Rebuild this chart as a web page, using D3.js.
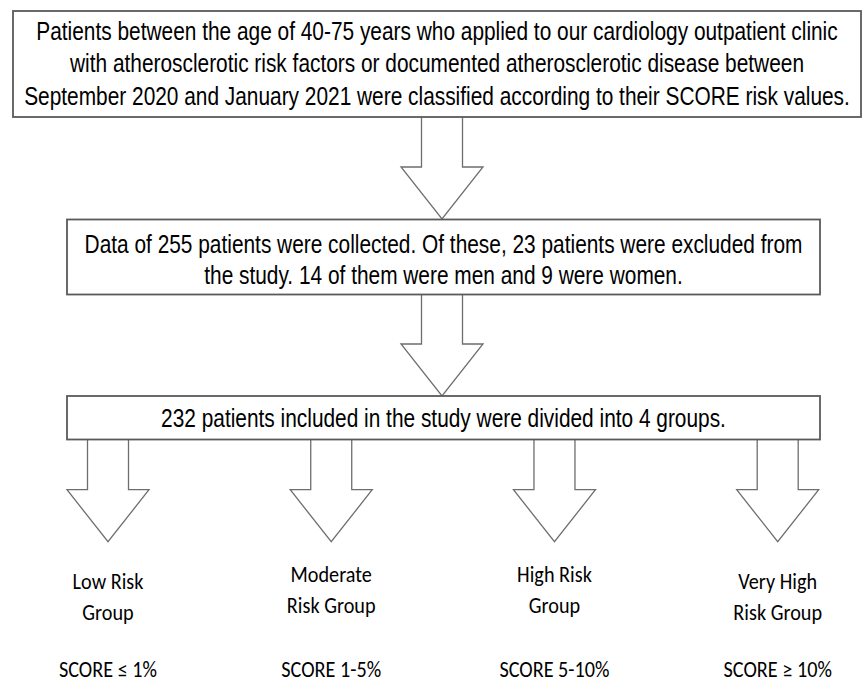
<!DOCTYPE html>
<html>
<head>
<meta charset="utf-8">
<script src="https://cdn.jsdelivr.net/npm/d3@7"></script>
<style>
  body { margin: 0; background: #fff; }
  svg { display: block; }
</style>
</head>
<body>
<svg width="863" height="682"></svg>
<script>
const svg = d3.select("svg");
const width = +svg.attr("width");
const height = +svg.attr("height");

// flow text
const step1Lines = [
    "Patients between the age of 40-75 years who applied to our cardiology outpatient clinic",
    "with atherosclerotic risk factors or documented atherosclerotic disease between",
    "September 2020 and January 2021 were classified according to their SCORE risk values."
];
const step2Lines = [
    "Data of 255 patients were collected. Of these, 23 patients were excluded from",
    "the study. 14 of them were men and 9 were women."
];
const step3Lines = [
    "232 patients included in the study were divided into 4 groups."
];

// the four risk groups
const groups = ["low", "moderate", "high", "veryHigh"];
const groupNames = [
    ["Low Risk", "Group"],
    ["Moderate", "Risk Group"],
    ["High Risk", "Group"],
    ["Very High", "Risk Group"]
];
const scoreLabels = ["SCORE \u2264 1%", "SCORE 1-5%", "SCORE 5-10%", "SCORE \u2265 10%"];

// no Arial Narrow here, so squeeze Liberation Sans horizontally
const boxFont = "'Liberation Sans', Arial, sans-serif";
const boxSqueeze = 0.835;
const groupFont = "Carlito, Calibri, Lato, 'Open Sans', sans-serif";
const groupSqueeze = 0.92;

const boxes = [
    { lines: step1Lines, x0: 13, x1: 861, y0: 11, y1: 117, lineGap: 32.5, shift: -1 },
    { lines: step2Lines, x0: 67, x1: 820, y0: 219.5, y1: 294.5, lineGap: 31, shift: 2 },
    { lines: step3Lines, x0: 67, x1: 820, y0: 396, y1: 439.5, lineGap: 31, shift: 0 }
];

// group positions
const x = d3.scalePoint().domain(groups).range([108, 777.7]);

// arrow shape: shaft 41 wide, head 82 wide, head ~50 tall
function arrowPath(cx, top, bottom) {
    const shaft = 20.5, head = 41;
    const shoulder = bottom - 52;
    return d3.line()([
        [cx - shaft, top], [cx - shaft, shoulder], [cx - head, shoulder],
        [cx, bottom],
        [cx + head, shoulder], [cx + shaft, shoulder], [cx + shaft, top]
    ]);
}

const arrows = svg.append("g").attr("class", "arrows");
[[442, 117, 219], [442, 294.5, 396]].forEach(a => {
    arrows.append("path")
        .attr("d", arrowPath(a[0], a[1], a[2]))
        .attr("fill", "#fff")
        .attr("stroke", "#6e6e6e")
        .attr("stroke-width", 1.3);
});
groups.forEach(g => {
    arrows.append("path")
        .attr("d", arrowPath(x(g), 439.5, 541.7))
        .attr("fill", "#fff")
        .attr("stroke", "#6e6e6e")
        .attr("stroke-width", 1.3);
});

// boxes
const box = svg.append("g").attr("class", "boxes")
    .selectAll("g")
    .data(boxes)
    .join("g");

box.append("rect")
    .attr("x", d => d.x0)
    .attr("y", d => d.y0)
    .attr("width", d => d.x1 - d.x0)
    .attr("height", d => d.y1 - d.y0)
    .attr("fill", "#fff")
    .attr("stroke", "#5a5a5a")
    .attr("stroke-width", 1.8);

box.each(function (d) {
    const cx = (d.x0 + d.x1) / 2;
    const cy = (d.y0 + d.y1) / 2 + d.shift;
    const first = cy - (d.lines.length - 1) * d.lineGap / 2;
    d3.select(this).selectAll("text")
        .data(d.lines)
        .join("text")
        .attr("transform", (t, i) => `translate(${cx},${first + i * d.lineGap + 9}) scale(${boxSqueeze},1)`)
        .attr("text-anchor", "middle")
        .attr("font-family", boxFont)
        .attr("font-size", 25)
        .attr("fill", "#000")
        .text(t => t);
});

// group labels
const labels = svg.append("g").attr("class", "labels")
    .selectAll("g")
    .data(groups)
    .join("g")
    .attr("transform", g => `translate(${x(g)},0)`);

labels.each(function (g, i) {
    const base = (i === 1 || i === 2) ? 582 : 589;
    d3.select(this).selectAll("text.name")
        .data(groupNames[i])
        .join("text")
        .attr("class", "name")
        .attr("transform", (t, j) => `translate(0,${base + j * 31}) scale(${groupSqueeze},1)`)
        .attr("text-anchor", "middle")
        .attr("font-family", groupFont)
        .attr("font-size", 22)
        .attr("fill", "#000")
        .text(t => t);
    d3.select(this).append("text")
        .attr("transform", `translate(0,677) scale(${groupSqueeze},1)`)
        .attr("text-anchor", "middle")
        .attr("font-family", groupFont)
        .attr("font-size", 22)
        .attr("fill", "#000")
        .text(scoreLabels[i]);
});
</script>
</body>
</html>
